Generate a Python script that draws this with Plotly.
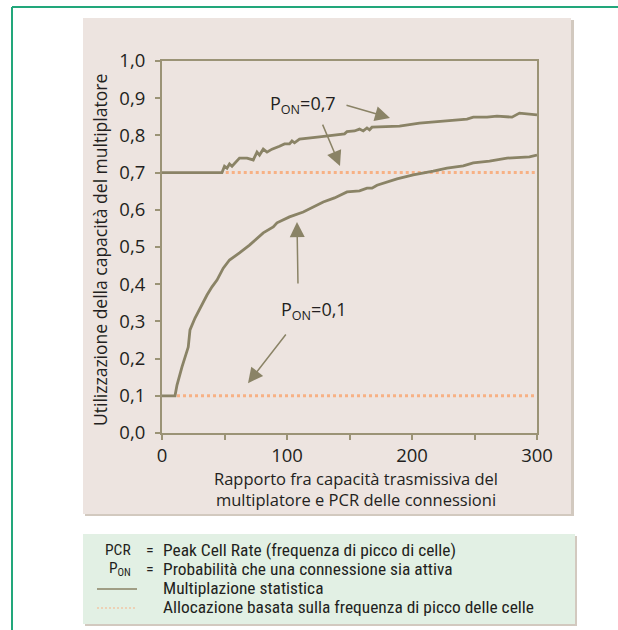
import plotly.graph_objects as go

# ---------------- data ----------------
x_p07 = [0, 48, 50, 52, 54, 56, 62, 68, 73, 76, 78, 81, 84, 88, 94, 98, 102, 104, 106, 110,
         126, 146, 148, 154, 158, 161, 164, 166, 168, 190, 206, 228, 233, 244, 249, 260,
         268, 280, 286, 300]
y_p07 = [0.700, 0.700, 0.717, 0.712, 0.723, 0.717, 0.739, 0.739, 0.734, 0.755, 0.747, 0.763,
         0.755, 0.763, 0.771, 0.777, 0.777, 0.785, 0.780, 0.790, 0.796, 0.804, 0.810, 0.812,
         0.817, 0.812, 0.820, 0.815, 0.822, 0.825, 0.833, 0.839, 0.841, 0.844, 0.849, 0.849,
         0.852, 0.849, 0.860, 0.855]

x_p01 = [0, 10.4, 12, 16, 21, 22.4, 26.4, 30.4, 36, 40, 44, 49, 54, 62, 70, 81, 89, 92, 102,
         113, 129, 138, 148, 158, 164, 168, 172, 188, 201, 217, 228, 241, 249, 262, 276, 294, 300]
y_p01 = [0.100, 0.100, 0.129, 0.178, 0.231, 0.277, 0.309, 0.336, 0.371, 0.393, 0.411, 0.443,
         0.465, 0.484, 0.505, 0.538, 0.554, 0.565, 0.581, 0.594, 0.621, 0.632, 0.648, 0.651,
         0.658, 0.658, 0.666, 0.683, 0.694, 0.704, 0.712, 0.718, 0.726, 0.731, 0.739, 0.742, 0.747]

x_peak07 = [51, 300]
y_peak07 = [0.7, 0.7]
x_peak01 = [12, 300]
y_peak01 = [0.1, 0.1]

x_tickvals = [0, 100, 200, 300]
x_ticktext = ["0", "100", "200", "300"]
x_minor_tickvals = [50, 150, 250]
y_tickvals = [0.0, 0.1, 0.2, 0.3, 0.4, 0.5, 0.6, 0.7, 0.8, 0.9, 1.0]
y_ticktext = ["0,0", "0,1", "0,2", "0,3", "0,4", "0,5", "0,6", "0,7", "0,8", "0,9", "1,0"]

label_p07 = "P<sub>ON</sub>=0,7"
label_p01 = "P<sub>ON</sub>=0,1"
y_title = "Utilizzazione della capacità del multiplatore"
x_title_lines = ["Rapporto fra capacità trasmissiva del", "multiplatore e PCR delle connessioni"]
legend_rows = [
    ("PCR", "=", "Peak Cell Rate (frequenza di picco di celle)"),
    ("P<sub>ON</sub>", "=", "Probabilità che una connessione sia attiva"),
    ("", "", "Multiplazione statistica"),
    ("", "", "Allocazione basata sulla frequenza di picco delle celle"),
]

# ---------------- style ----------------
W, H = 618, 630
L, R, T, B = 162, 537, 61, 433  # plot area in pixels
LINE = "#8A8366"
AXIS = "#9B9376"
DOT = "#F7B185"
TXT = "#231F20"
PANEL = "#EDE4E0"
PLOTBG = "#FFFAD9"
LEGBG = "#E2F0E4"
SHADOW = "#D2C9BF"
GREEN = "#22A77B"
FONT = "Open Sans"
NARROW = "Liberation Sans Narrow, Roboto Condensed, Roboto"


def px(x):
    return (x - L) / (R - L)


def py(y):
    return (B - y) / (B - T)


fig = go.Figure()
fig.add_trace(go.Scatter(x=x_peak07, y=y_peak07, mode="lines",
                         line=dict(color=DOT, width=3, dash="3px,3px"), hoverinfo="skip"))
fig.add_trace(go.Scatter(x=x_peak01, y=y_peak01, mode="lines",
                         line=dict(color=DOT, width=3, dash="3px,3px"), hoverinfo="skip"))
fig.add_trace(go.Scatter(x=x_p07, y=y_p07, mode="lines", line=dict(color=LINE, width=2.8)))
fig.add_trace(go.Scatter(x=x_p01, y=y_p01, mode="lines", line=dict(color=LINE, width=2.8)))

shapes = []
# outer green frame
shapes.append(dict(type="line", xref="paper", yref="paper", x0=px(12), x1=px(620), y0=py(7), y1=py(7),
                   line=dict(color=GREEN, width=2)))
shapes.append(dict(type="line", xref="paper", yref="paper", x0=px(12), x1=px(12), y0=py(7), y1=py(632),
                   line=dict(color=GREEN, width=2)))
# chart panel with shadow
shapes.append(dict(type="rect", xref="paper", yref="paper", layer="below", x0=px(85), x1=px(574),
                   y0=py(20), y1=py(516), fillcolor=SHADOW, line=dict(width=0)))
shapes.append(dict(type="rect", xref="paper", yref="paper", layer="below", x0=px(83), x1=px(571),
                   y0=py(18), y1=py(514), fillcolor=PANEL, line=dict(width=0)))
# legend box with shadow
shapes.append(dict(type="rect", xref="paper", yref="paper", layer="below", x0=px(85), x1=px(577),
                   y0=py(536), y1=py(626), fillcolor=SHADOW, line=dict(width=0)))
shapes.append(dict(type="rect", xref="paper", yref="paper", layer="below", x0=px(83), x1=px(575),
                   y0=py(534), y1=py(624), fillcolor=LEGBG, line=dict(width=0)))
# legend symbols
shapes.append(dict(type="line", xref="paper", yref="paper", x0=px(97), x1=px(137), y0=py(589), y1=py(589),
                   line=dict(color=LINE, width=1.5)))
shapes.append(dict(type="line", xref="paper", yref="paper", x0=px(97), x1=px(137), y0=py(608), y1=py(608),
                   line=dict(color=DOT, width=1.2, dash="2px,2px")))

annotations = []
# y title
annotations.append(dict(text=y_title, xref="paper", yref="paper", x=px(100), y=py(250), textangle=-90,
                        showarrow=False, font=dict(family=FONT, size=17.5, color=TXT),
                        xanchor="center", yanchor="middle"))
# x title (two lines, one text)
annotations.append(dict(text="<br>".join(x_title_lines), xref="paper", yref="paper", x=px(356), y=py(489),
                        showarrow=False, font=dict(family=FONT, size=16.5, color=TXT),
                        xanchor="center", yanchor="middle", borderpad=0))
# labels and arrows
annotations.append(dict(text=label_p07, x=112.8, y=0.882, xref="x", yref="y", showarrow=False,
                        font=dict(family=FONT, size=18, color=TXT)))
annotations.append(dict(text=label_p01, x=121.6, y=0.328, xref="x", yref="y", showarrow=False,
                        font=dict(family=FONT, size=18, color=TXT)))
arrows = [((146.4, 0.882), (182.4, 0.847)),
          ((128.0, 0.833), (142.4, 0.718)),
          ((108.8, 0.398), (108.0, 0.567)),
          ((100.0, 0.269), (68.8, 0.134))]
for (tx, ty), (hx, hy) in arrows:
    annotations.append(dict(text="", x=hx, y=hy, ax=tx, ay=ty, xref="x", yref="y", axref="x", ayref="y",
                            showarrow=True, arrowhead=2, arrowsize=2.0, arrowwidth=1.5, arrowcolor=LINE,
                            standoff=0, startstandoff=0))
# legend texts
row_y = [550, 569, 588, 607]
for (a, b, c), yy in zip(legend_rows, row_y):
    if a:
        annotations.append(dict(text=a, xref="paper", yref="paper", x=px(132), y=py(yy), showarrow=False,
                                xanchor="right", yanchor="middle", borderpad=0,
                                font=dict(family=NARROW, size=15.5, color=TXT)))
    if b:
        annotations.append(dict(text=b, xref="paper", yref="paper", x=px(150), y=py(yy), showarrow=False,
                                xanchor="center", yanchor="middle", borderpad=0,
                                font=dict(family=NARROW, size=16, color=TXT)))
    annotations.append(dict(text=c, xref="paper", yref="paper", x=px(162), y=py(yy), showarrow=False,
                            xanchor="left", yanchor="middle", borderpad=0,
                            font=dict(family=NARROW, size=17.4, color=TXT)))

fig.update_layout(
    width=W, height=H,
    margin=dict(l=L, r=W - R, t=T, b=H - B, pad=0),
    paper_bgcolor="white", plot_bgcolor=PLOTBG,
    showlegend=False,
    shapes=shapes, annotations=annotations,
    font=dict(family=FONT, color=TXT),
)
fig.update_xaxes(range=[0, 300], tickvals=x_tickvals, ticktext=x_ticktext, showgrid=False, zeroline=False,
                 showline=True, mirror=True, linecolor=AXIS, linewidth=2, ticks="outside", ticklen=5,
                 tickwidth=1.5, tickcolor=AXIS, tickfont=dict(family=FONT, size=18.5, color=TXT),
                 minor=dict(tickvals=x_minor_tickvals, ticks="outside", ticklen=5, tickwidth=1.5,
                            tickcolor=AXIS, showgrid=False))
fig.update_yaxes(range=[0, 1.0], tickvals=y_tickvals, ticktext=y_ticktext, showgrid=False, zeroline=False,
                 showline=True, mirror=True, linecolor=AXIS, linewidth=2, ticks="outside", ticklen=5,
                 tickwidth=1.5, tickcolor=AXIS, ticklabelstandoff=6,
                 tickfont=dict(family=FONT, size=18.5, color=TXT))

fig.write_html("out.html", config={"displayModeBar": False},
               post_script="document.body.style.margin='0';document.body.style.overflow='hidden';")
